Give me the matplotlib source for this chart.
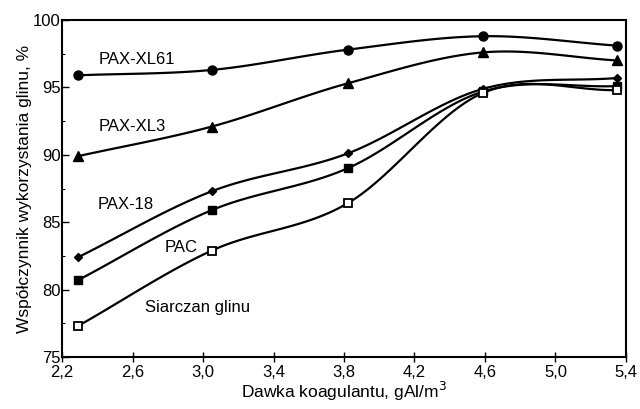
import matplotlib
matplotlib.use("Agg")
import matplotlib.pyplot as plt
import numpy as np
from matplotlib.ticker import FixedLocator, FuncFormatter, MultipleLocator

plt.rcParams["font.family"] = ["Liberation Sans", "DejaVu Sans"]

dose = [2.29, 3.05, 3.82, 4.59, 5.35]
pax_xl61 = [95.9, 96.3, 97.8, 98.8, 98.1]
pax_xl3 = [89.9, 92.1, 95.3, 97.6, 97.0]
pax_18 = [82.4, 87.3, 90.1, 94.9, 95.7]
pac = [80.7, 85.9, 89.0, 94.7, 95.1]
siarczan = [77.3, 82.9, 86.4, 94.6, 94.8]

x_ticks = [2.2, 2.6, 3.0, 3.4, 3.8, 4.2, 4.6, 5.0, 5.4]
series_names = ["PAX-XL61", "PAX-XL3", "PAX-18", "PAC", "Siarczan glinu"]
label_pos = [(2.41, 97.1), (2.41, 92.07), (2.40, 86.3), (2.78, 83.1), (2.67, 78.7)]


def smooth(x, y, n=30):
    # Catmull-Rom curve through the points, for display only
    x = np.asarray(x, float)
    y = np.asarray(y, float)
    px = np.concatenate([[2 * x[0] - x[1]], x, [2 * x[-1] - x[-2]]])
    py = np.concatenate([[2 * y[0] - y[1]], y, [2 * y[-1] - y[-2]]])
    xs, ys = [], []
    t = np.linspace(0, 1, n)
    for i in range(1, len(px) - 2):
        for p, out in ((px, xs), (py, ys)):
            p0, p1, p2, p3 = p[i - 1], p[i], p[i + 1], p[i + 2]
            out.extend(0.5 * ((2 * p1) + (-p0 + p2) * t
                              + (2 * p0 - 5 * p1 + 4 * p2 - p3) * t ** 2
                              + (-p0 + 3 * p1 - 3 * p2 + p3) * t ** 3))
    return np.array(xs), np.array(ys)


fig = plt.figure(figsize=(6.4, 4.09), dpi=100)
ax = fig.add_axes([0.097, 0.127, 0.881, 0.824])

styles = [
    dict(marker="o", ms=6.5, mfc="black"),
    dict(marker="^", ms=6.5, mfc="black"),
    dict(marker="D", ms=4.5, mfc="black"),
    dict(marker="s", ms=6, mfc="black"),
    dict(marker="s", ms=5.5, mfc="white", mew=1.3),
]
for vals, st in zip([pax_xl61, pax_xl3, pax_18, pac, siarczan], styles):
    sx, sy = smooth(dose, vals)
    ax.plot(sx, sy, color="black", lw=1.6)
    ax.plot(dose, vals, ls="none", color="black", mec="black", **st)

for name, (lx, ly) in zip(series_names, label_pos):
    ax.text(lx, ly, name, fontsize=12, ha="left", va="center")

ax.set_xlim(2.2, 5.4)
ax.set_ylim(75, 100)
ax.xaxis.set_major_locator(FixedLocator(x_ticks))
ax.yaxis.set_major_locator(MultipleLocator(5))
ax.yaxis.set_minor_locator(MultipleLocator(2.5))
ax.xaxis.set_major_formatter(FuncFormatter(lambda v, p: f"{v:.1f}".replace(".", ",")))
ax.tick_params(axis="x", direction="inout", length=7, width=1, labelsize=12, pad=2)
ax.tick_params(axis="y", which="major", direction="in", length=5, width=1, labelsize=12, pad=1)
ax.tick_params(axis="y", which="minor", direction="in", length=2.5, width=0.8)
for sp in ax.spines.values():
    sp.set_linewidth(1.5)

ax.set_xlabel("Dawka koagulantu, gAl/m$^3$", fontsize=12.5, labelpad=0)
ax.set_ylabel("Współczynnik wykorzystania glinu, %", fontsize=12.5, labelpad=1)

fig.savefig("out.png", dpi=100)
